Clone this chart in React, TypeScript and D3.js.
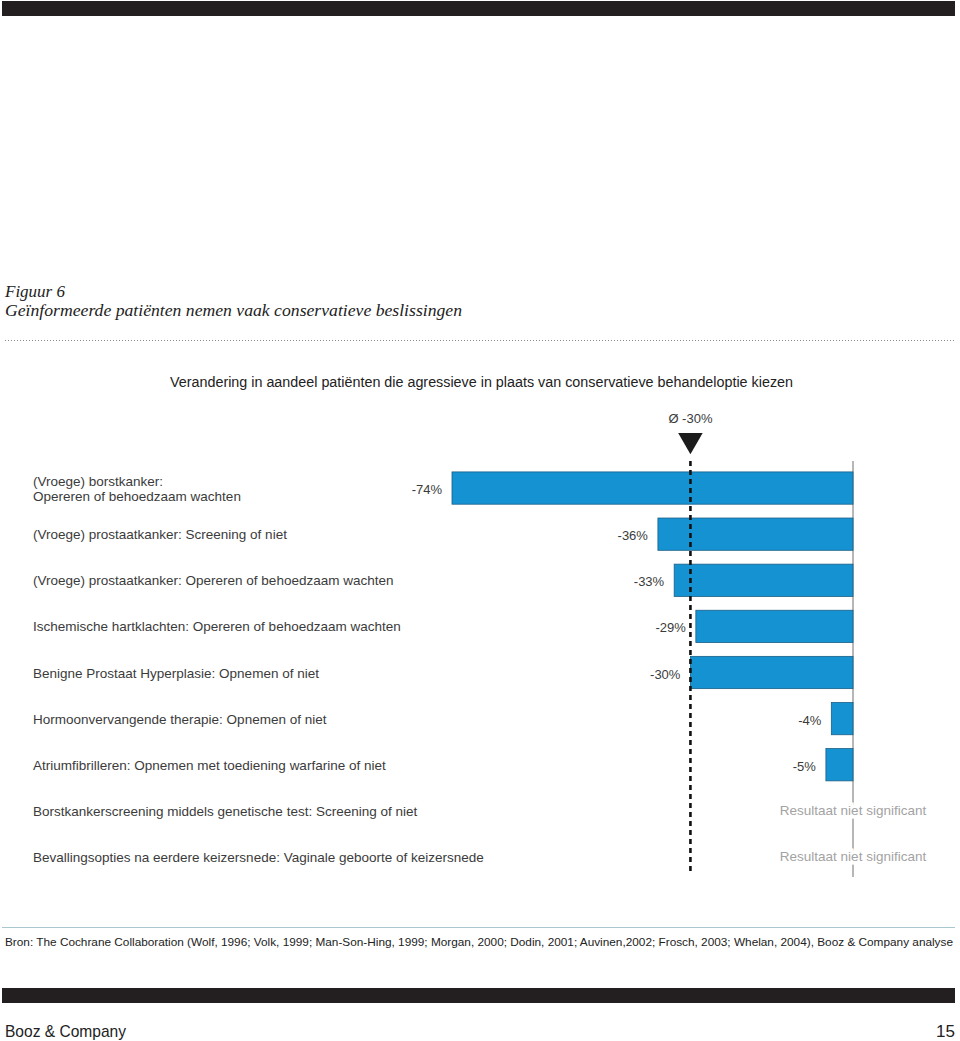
import * as d3 from "d3";

const WIDTH = 960;
const HEIGHT = 1041;

// Rows, top to bottom. null = result not significant.
const categories = [
  "(Vroege) borstkanker:\nOpereren of behoedzaam wachten",
  "(Vroege) prostaatkanker: Screening of niet",
  "(Vroege) prostaatkanker: Opereren of behoedzaam wachten",
  "Ischemische hartklachten: Opereren of behoedzaam wachten",
  "Benigne Prostaat Hyperplasie: Opnemen of niet",
  "Hormoonvervangende therapie: Opnemen of niet",
  "Atriumfibrilleren: Opnemen met toediening warfarine of niet",
  "Borstkankerscreening middels genetische test: Screening of niet",
  "Bevallingsopties na eerdere keizersnede: Vaginale geboorte of keizersnede",
];
const values: (number | null)[] = [-74, -36, -33, -29, -30, -4, -5, null, null];
const average = -30;
const averageLabel = "Ø -30%";
const notSignificantLabel = "Resultaat niet significant";

const figureNumber = "Figuur 6";
const figureTitle = "Geïnformeerde patiënten nemen vaak conservatieve beslissingen";
const chartTitle =
  "Verandering in aandeel patiënten die agressieve in plaats van conservatieve behandeloptie kiezen";
const sourceText =
  "Bron: The Cochrane Collaboration (Wolf, 1996; Volk, 1999; Man-Son-Hing, 1999; Morgan, 2000; Dodin, 2001; Auvinen,2002; Frosch, 2003; Whelan, 2004), Booz & Company analyse";
const footerLeft = "Booz & Company";
const footerRight = "15";

const SANS = "'Liberation Sans', Arial, Helvetica, sans-serif";
const SERIF = "'Liberation Serif', 'Times New Roman', serif";
const TEXT = "#3b3b3b";
const BAR = "#1592d2";
const BAR_EDGE = "#1b5f86";

const x = d3.scaleLinear().domain([-74, 0]).range([452, 853]);
const y = d3
  .scaleBand<string>()
  .domain(categories)
  .range([465, 880])
  .paddingInner(0.3)
  .paddingOuter(0.15);

export default function App() {
  const x0 = x(0);
  const xa = x(average);
  const top = 461;
  const bottom = 877;
  const tri = d3.symbol(d3.symbolTriangle, 260)();

  return (
    <svg
      width={WIDTH}
      height={HEIGHT}
      viewBox={`0 0 ${WIDTH} ${HEIGHT}`}
      style={{ position: "absolute", left: 0, top: 0, display: "block", background: "#fff" }}
    >
      {/* page furniture */}
      <rect x={2} y={1} width={953} height={15} fill="#231f20" />
      <text x={5} y={297} fontFamily={SERIF} fontStyle="italic" fontSize={17} fill="#222">
        {figureNumber}
      </text>
      <text
        x={5}
        y={316}
        fontFamily={SERIF}
        fontStyle="italic"
        fontSize={17.5}
        fill="#222"
        textLength={457}
        lengthAdjust="spacingAndGlyphs"
      >
        {figureTitle}
      </text>
      <line x1={5} x2={955} y1={340.5} y2={340.5} stroke="#888" strokeWidth={1} strokeDasharray="1 2" />

      <text
        x={170}
        y={387}
        fontFamily={SANS}
        fontSize={14}
        fill="#222"
        textLength={623}
        lengthAdjust="spacingAndGlyphs"
      >
        {chartTitle}
      </text>

      {/* zero axis */}
      <line x1={x0} x2={x0} y1={top} y2={bottom} stroke="#6e6e6e" strokeWidth={1} />

      {/* bars */}
      {categories.map((c, i) => {
        const v = values[i];
        const yb = y(c) as number;
        const bh = y.bandwidth();
        const cy = yb + bh / 2;
        const lines = c.split("\n");
        return (
          <g key={c}>
            <text x={33} y={cy + 5 - (lines.length - 1) * 7.5} fontFamily={SANS} fontSize={13.5} fill={TEXT}>
              {lines.map((l, k) => (
                <tspan key={k} x={33} dy={k === 0 ? 0 : 15}>
                  {l}
                </tspan>
              ))}
            </text>
            {v !== null ? (
              <>
                <rect
                  x={x(v)}
                  y={yb}
                  width={x0 - x(v)}
                  height={bh}
                  fill={BAR}
                  stroke={BAR_EDGE}
                  strokeWidth={0.8}
                />
                <text
                  x={x(v) - 10}
                  y={cy + 6}
                  textAnchor="end"
                  fontFamily={SANS}
                  fontSize={13}
                  fill={TEXT}
                >
                  {`${v}%`}
                </text>
              </>
            ) : (
              <text
                x={x0}
                y={cy + 4}
                textAnchor="middle"
                fontFamily={SANS}
                fontSize={13.5}
                fill="#a3a3a3"
                stroke="#fff"
                strokeWidth={7}
                paintOrder="stroke"
              >
                {notSignificantLabel}
              </text>
            )}
          </g>
        );
      })}

      {/* average marker */}
      <line
        x1={xa}
        x2={xa}
        y1={top}
        y2={875}
        stroke="#111"
        strokeWidth={2.6}
        strokeDasharray="5 4"
      />
      <path d={tri ?? ""} transform={`translate(${xa},${440}) rotate(180)`} fill="#1c1c1c" />
      <text x={xa} y={423} textAnchor="middle" fontFamily={SANS} fontSize={13} fill={TEXT}>
        {averageLabel}
      </text>

      {/* source */}
      <line x1={2} x2={955} y1={927.5} y2={927.5} stroke="#a9c7cf" strokeWidth={1.2} />
      <text
        x={5}
        y={946}
        fontFamily={SANS}
        fontSize={11.5}
        fill="#222"
        textLength={948}
        lengthAdjust="spacingAndGlyphs"
      >
        {sourceText}
      </text>

      <rect x={2} y={988} width={953} height={15} fill="#231f20" />
      <text
        x={5}
        y={1037}
        fontFamily={SANS}
        fontSize={17}
        fill="#222"
        textLength={121}
        lengthAdjust="spacingAndGlyphs"
      >
        {footerLeft}
      </text>
      <text x={955} y={1037} textAnchor="end" fontFamily={SANS} fontSize={17} fill="#222">
        {footerRight}
      </text>
    </svg>
  );
}
